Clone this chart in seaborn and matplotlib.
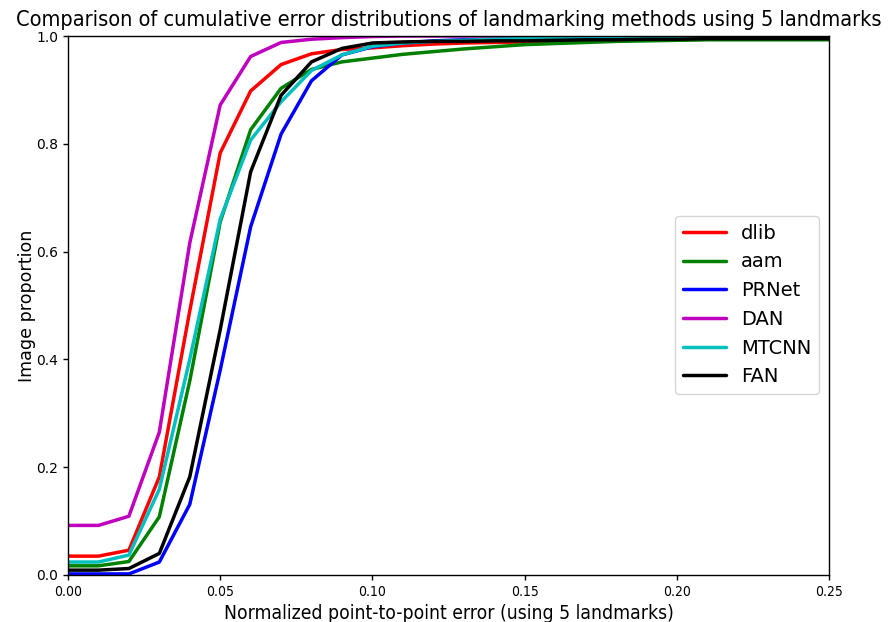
import matplotlib
matplotlib.use("Agg")
import matplotlib.pyplot as plt
import seaborn as sns
import pandas as pd

errors = [0.00, 0.01, 0.02, 0.03, 0.04, 0.05, 0.06, 0.07, 0.08, 0.09, 0.10, 0.11, 0.12,
          0.13, 0.14, 0.15, 0.16, 0.17, 0.18, 0.19, 0.20, 0.21, 0.22, 0.23, 0.24, 0.25]

dlib = [0.035, 0.035, 0.046, 0.182, 0.49, 0.783, 0.898, 0.947, 0.967, 0.975, 0.978, 0.982,
        0.985, 0.987, 0.988, 0.989, 0.990, 0.991, 0.992, 0.993, 0.993, 0.994, 0.994, 0.994,
        0.994, 0.994]
aam = [0.017, 0.017, 0.025, 0.108, 0.36, 0.655, 0.826, 0.903, 0.938, 0.952, 0.959, 0.966,
       0.971, 0.976, 0.980, 0.984, 0.986, 0.988, 0.990, 0.991, 0.992, 0.993, 0.993, 0.993,
       0.993, 0.993]
prnet = [0.002, 0.002, 0.002, 0.024, 0.131, 0.38, 0.646, 0.818, 0.917, 0.965, 0.980, 0.987,
         0.991, 0.993, 0.994, 0.995, 0.996, 0.996, 0.997, 0.997, 0.997, 0.997, 0.997, 0.997,
         0.997, 0.997]
dan = [0.092, 0.092, 0.109, 0.265, 0.616, 0.872, 0.962, 0.988, 0.994, 0.997, 0.999, 1.0,
       1.0, 1.0, 1.0, 1.0, 1.0, 1.0, 1.0, 1.0, 1.0, 1.0, 1.0, 1.0, 1.0, 1.0]
mtcnn = [0.024, 0.024, 0.037, 0.159, 0.40, 0.66, 0.807, 0.878, 0.936, 0.965, 0.981, 0.987,
         0.990, 0.992, 0.994, 0.995, 0.996, 0.996, 0.997, 0.997, 0.997, 0.997, 0.997, 0.997,
         0.997, 0.997]
fan = [0.009, 0.009, 0.012, 0.040, 0.182, 0.455, 0.748, 0.890, 0.952, 0.977, 0.987, 0.989,
       0.990, 0.990, 0.991, 0.991, 0.992, 0.993, 0.993, 0.994, 0.994, 0.995, 0.995, 0.995,
       0.995, 0.995]

methods = ["dlib", "aam", "PRNet", "DAN", "MTCNN", "FAN"]
series = [dlib, aam, prnet, dan, mtcnn, fan]
colors = ["#ff0000", "#008000", "#0000ff", "#bf00bf", "#00bfbf", "#000000"]

rows = []
for name, vals in zip(methods, series):
    for x, y in zip(errors, vals):
        rows.append({"error": x, "proportion": y, "method": name})
df = pd.DataFrame(rows)

sns.set_style("ticks")
plt.rcParams["font.family"] = ["DejaVu Sans"]
plt.rcParams["axes.edgecolor"] = "black"
plt.rcParams["xtick.color"] = "black"
plt.rcParams["ytick.color"] = "black"
plt.rcParams["text.color"] = "black"
plt.rcParams["axes.labelcolor"] = "black"

fig = plt.figure(figsize=(8.93, 6.22), dpi=100)
ax = fig.add_axes([68 / 893, 47 / 622, (829 - 68) / 893, (575 - 36) / 622])

sns.lineplot(data=df, x="error", y="proportion", hue="method", hue_order=methods,
             palette=colors, estimator=None, linewidth=2.5, ax=ax)

ax.set_xlim(0, 0.25)
ax.set_ylim(0, 1.0)
ax.set_xticks([0.0, 0.05, 0.10, 0.15, 0.20, 0.25])
ax.set_xticklabels(["0.00", "0.05", "0.10", "0.15", "0.20", "0.25"], fontsize=10,
                   fontstretch="condensed")
ax.set_yticks([0.0, 0.2, 0.4, 0.6, 0.8, 1.0])
ax.set_yticklabels(["0.0", "0.2", "0.4", "0.6", "0.8", "1.0"], fontsize=10)
for s in ax.spines.values():
    s.set_visible(True)
    s.set_linewidth(1.0)
    s.set_color("black")
ax.tick_params(direction="out", length=3.5, width=1)

ax.set_xlabel("Normalized point-to-point error (using 5 landmarks)", fontsize=13.9,
              fontstretch="condensed")
ax.set_ylabel("Image proportion", fontsize=12.6, labelpad=0)
ax.set_title("Comparison of cumulative error distributions of landmarking methods using 5 landmarks",
             fontsize=15.6, fontstretch="condensed", pad=7)

leg = ax.legend(loc="center right", bbox_to_anchor=(0.987, 0.501), borderaxespad=0,
                fontsize=14, frameon=True, handlelength=2.2)
leg.get_frame().set_edgecolor("#cccccc")

fig.savefig("out.png", dpi=100)
